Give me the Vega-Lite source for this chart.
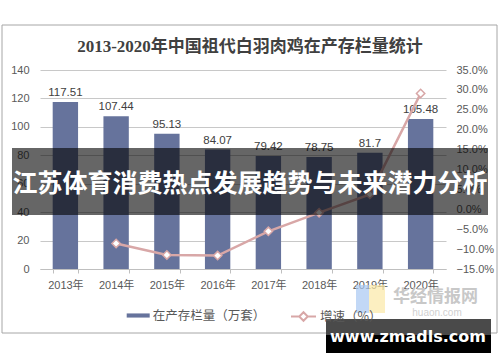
{
  "$schema": "https://vega.github.io/schema/vega-lite/v6.json",
  "autosize": "none",
  "width": 406,
  "height": 199,
  "padding": {"left": 40, "top": 70, "right": 54, "bottom": 93},
  "background": "white",
  "title": {
    "text": "2013-2020年中国祖代白羽肉鸡在产存栏量统计",
    "font": "Liberation Serif, Noto Sans CJK SC",
    "fontSize": 17,
    "fontWeight": "bold",
    "color": "#404040",
    "anchor": "middle",
    "frame": "group",
    "offset": 10,
    "dx": 7,
    "dy": 41
  },
  "config": {
    "view": {"stroke": null},
    "font": "Liberation Sans, Noto Sans CJK SC",
    "axis": {
      "labelFont": "Liberation Sans, Noto Sans CJK SC",
      "labelFontSize": 11,
      "labelColor": "#595959",
      "domain": false,
      "ticks": false,
      "grid": false,
      "title": null
    }
  },
  "datasets": {
    "main": [
      {"year": "2013年", "value": 117.51, "growth": null},
      {"year": "2014年", "value": 107.44, "growth": -0.0857},
      {"year": "2015年", "value": 95.13, "growth": -0.1146},
      {"year": "2016年", "value": 84.07, "growth": -0.1163},
      {"year": "2017年", "value": 79.42, "growth": -0.0553},
      {"year": "2018年", "value": 78.75, "growth": -0.0084},
      {"year": "2019年", "value": 81.7, "growth": 0.0375},
      {"year": "2020年", "value": 105.48, "growth": 0.2911}
    ]
  },
  "layer": [
    {
      "data": {"values": [{}]},
      "mark": {"type": "rect", "fill": "transparent", "stroke": "#A6A6A6", "strokeWidth": 1},
      "encoding": {"x": {"value": -38}, "x2": {"value": 457}, "y": {"value": -45}, "y2": {"value": 263}}
    },
    {
      "data": {"name": "main"},
      "encoding": {
        "x": {
          "field": "year", "type": "nominal", "sort": null,
          "scale": {"paddingInner": 0.5, "paddingOuter": 0.25},
          "axis": {
            "labelAngle": 0, "labelPadding": 6, "domain": true, "domainColor": "#BFBFBF",
            "ticks": true, "tickBand": "extent", "tickColor": "#BFBFBF", "tickSize": 4
          }
        },
        "y": {
          "field": "value", "type": "quantitative",
          "scale": {"domain": [0, 140], "nice": false},
          "axis": {"orient": "left", "values": [0, 20, 40, 60, 80, 100, 120, 140], "grid": true, "gridColor": "#C8C8C8", "labelPadding": 11}
        }
      },
      "layer": [
        {
          "mark": {"type": "bar"},
          "encoding": {
            "fill": {
              "datum": "在产存栏量（万套）", "type": "nominal",
              "scale": {"range": ["#66739C"]},
              "legend": {
                "title": null, "orient": "none", "legendX": 86.7, "legendY": 234,
                "symbolType": "M-1,-0.18H1V0.18H-1Z", "symbolSize": 529, "symbolStrokeWidth": 0,
                "labelFont": "Noto Sans CJK SC", "labelFontSize": 12.5, "labelColor": "#595959",
                "labelOffset": 3, "padding": 0
              }
            }
          }
        },
        {
          "mark": {"type": "text", "baseline": "bottom", "dy": -4, "fontSize": 11.5, "color": "#404040", "font": "Liberation Sans"},
          "encoding": {"text": {"field": "value", "type": "nominal"}}
        }
      ]
    },
    {
      "data": {"name": "main"},
      "transform": [{"filter": "datum.growth != null"}],
      "encoding": {
        "x": {"field": "year", "type": "nominal", "sort": null},
        "y": {
          "field": "growth", "type": "quantitative",
          "scale": {"domain": [-0.15, 0.35], "nice": false, "zero": false},
          "axis": {"orient": "right", "format": ".1%", "values": [-0.15, -0.1, -0.05, 0, 0.05, 0.1, 0.15, 0.2, 0.25, 0.3, 0.35], "labelPadding": 10}
        }
      },
      "layer": [
        {
          "mark": {"type": "line", "strokeWidth": 2.5},
          "encoding": {
            "stroke": {
              "datum": "增速（%）", "type": "nominal",
              "scale": {"range": ["#D8A7A7"]},
              "legend": {
                "title": null, "orient": "none", "legendX": 250, "legendY": 233,
                "symbolType": "M-1,0H-0.34M0.34,0H1M0,-0.34L0.34,0L0,0.34L-0.34,0Z",
                "symbolSize": 625, "symbolStrokeWidth": 2, "symbolFillColor": "white",
                "labelFont": "Noto Sans CJK SC", "labelFontSize": 12.5, "labelColor": "#595959",
                "labelOffset": 3, "padding": 0
              }
            }
          }
        },
        {
          "mark": {"type": "point", "shape": "diamond", "filled": true, "fill": "white", "stroke": "#D8A7A7", "strokeWidth": 1.5, "size": 70, "opacity": 1}
        }
      ],
      "resolve": {"scale": {"y": "shared"}}
    },
    {
      "data": {"values": [{}]},
      "mark": {"type": "rect", "fill": "#A8C8F2", "opacity": 0.7},
      "encoding": {"x": {"value": 316}, "x2": {"value": 329}, "y": {"value": 215}, "y2": {"value": 243}}
    },
    {
      "data": {"values": [{}]},
      "mark": {"type": "rect", "fill": "#FBE8A6", "opacity": 0.7},
      "encoding": {"x": {"value": 329}, "x2": {"value": 345}, "y": {"value": 215}, "y2": {"value": 243}}
    },
    {
      "data": {"values": [{}]},
      "mark": {"type": "text", "text": "华经情报网", "font": "Noto Sans CJK SC", "fontSize": 17, "fontWeight": "bold", "color": "#C8C8C8", "align": "center", "baseline": "middle"},
      "encoding": {"x": {"value": 395.5}, "y": {"value": 226.5}}
    },
    {
      "data": {"values": [{}]},
      "mark": {"type": "text", "text": "huaon.com", "font": "Liberation Sans", "fontSize": 10, "letterSpacing": 4, "color": "#D0D0D0", "align": "center", "baseline": "middle"},
      "encoding": {"x": {"value": 397}, "y": {"value": 242.7}}
    },
    {
      "data": {"values": [{}]},
      "mark": {"type": "rect", "fill": "black", "opacity": 0.6},
      "encoding": {"x": {"value": -28}, "x2": {"value": 448}, "y": {"value": 78}, "y2": {"value": 145}}
    },
    {
      "data": {"values": [{}]},
      "mark": {"type": "text", "text": "江苏体育消费热点发展趋势与未来潜力分析", "font": "Noto Sans CJK SC", "fontSize": 25, "fontWeight": "bold", "color": "white", "align": "center", "baseline": "middle"},
      "encoding": {"x": {"value": 210}, "y": {"value": 114}}
    },
    {
      "data": {"values": [{}]},
      "mark": {"type": "rect", "fill": "#4A4A4A"},
      "encoding": {"x": {"value": 286}, "x2": {"value": 451}, "y": {"value": 249}, "y2": {"value": 265}}
    },
    {
      "data": {"values": [{}]},
      "mark": {"type": "rect", "fill": "#000000"},
      "encoding": {"x": {"value": 286}, "x2": {"value": 451}, "y": {"value": 265}, "y2": {"value": 283}}
    },
    {
      "data": {"values": [{}]},
      "mark": {"type": "text", "text": "www.zmadls.com", "font": "DejaVu Sans", "fontSize": 16, "fontWeight": "bold", "color": "white", "align": "center", "baseline": "middle"},
      "encoding": {"x": {"value": 368}, "y": {"value": 267}}
    }
  ],
  "resolve": {"scale": {"y": "independent"}}
}
